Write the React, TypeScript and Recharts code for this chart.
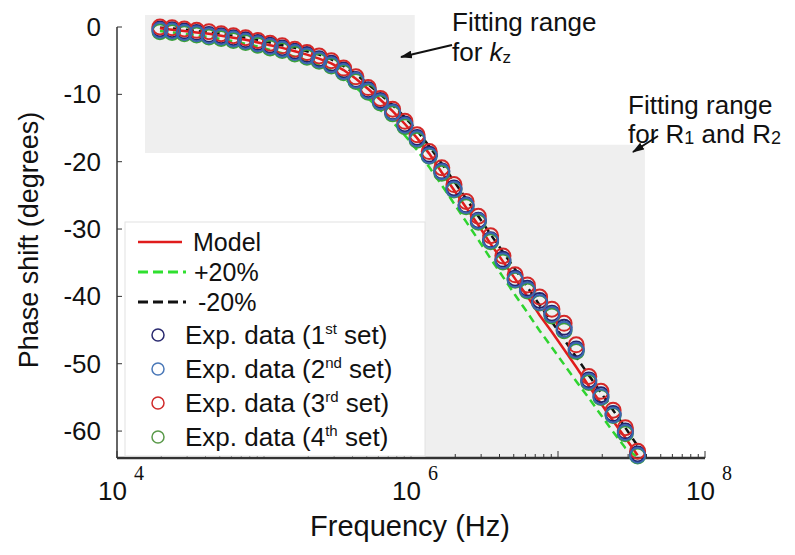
import React from "react";
import { ComposedChart, Line, Scatter, XAxis, YAxis, ReferenceArea } from "recharts";

// measurement frequencies (Hz), ~12 points per decade
const frequencies = [
  19600, 23700, 28700, 34800, 42200, 51100, 61900, 75000, 90900, 110000, 133000, 162000,
  196000, 237000, 287000, 348000, 422000, 511000, 619000, 750000, 909000, 1100000, 1330000, 1620000,
  1960000, 2370000, 2870000, 3480000, 4220000, 5110000, 6190000, 7500000, 9090000, 11000000, 13300000, 16200000,
  19600000, 23700000, 28700000, 34800000,
];

// phase shift (degrees)
const set1 = [
  -0.3, -0.4, -0.6, -0.8, -1.1, -1.3, -1.6, -1.9, -2.3, -2.7, -3.1, -3.6, -4.1, -4.7, -5.4, -6.4, -7.8, -9.3, -10.9, -12.6,
  -14.4, -16.4, -18.9, -21.4, -23.9, -26.4, -28.7, -31.6, -34.5, -37.3, -38.8, -40.6, -42.5, -44.6, -47.8, -52.4, -54.6, -57.4, -60.0, -63.4,
];
const set2 = [
  -0.5, -0.6, -0.8, -1.0, -1.3, -1.5, -1.8, -2.1, -2.5, -2.9, -3.3, -3.8, -4.3, -4.9, -5.6, -6.6, -7.9, -9.5, -11.1, -12.7,
  -14.6, -16.6, -19.1, -21.5, -24.1, -26.5, -28.8, -31.7, -34.7, -37.5, -39.0, -40.9, -42.7, -44.9, -48.0, -52.6, -54.9, -57.6, -60.2, -63.6,
];
const set3 = [
  0.0, -0.1, -0.3, -0.5, -0.7, -1.0, -1.3, -1.6, -2.0, -2.4, -2.8, -3.3, -3.8, -4.3, -5.0, -6.1, -7.4, -9.0, -10.6, -12.2,
  -14.0, -16.0, -18.5, -20.9, -23.4, -25.9, -28.1, -31.0, -34.0, -36.8, -38.3, -40.1, -41.9, -44.0, -47.2, -51.9, -54.1, -56.9, -59.5, -63.0,
];
const set4 = [
  -0.7, -0.8, -1.0, -1.2, -1.5, -1.7, -2.0, -2.3, -2.7, -3.1, -3.5, -4.0, -4.5, -5.1, -5.8, -6.8, -8.1, -9.7, -11.3, -12.9,
  -14.8, -16.8, -19.2, -21.7, -24.2, -26.7, -29.0, -31.9, -34.9, -37.6, -39.2, -41.0, -42.9, -45.1, -48.2, -52.8, -55.0, -57.7, -60.4, -63.7,
];
const model = [
  -0.2, -0.4, -0.6, -0.8, -1.0, -1.3, -1.6, -1.9, -2.3, -2.7, -3.1, -3.6, -4.1, -4.7, -5.4, -6.4, -7.7, -9.2, -10.8, -12.5,
  -14.4, -16.5, -18.8, -21.6, -24.2, -26.8, -29.4, -32.2, -34.8, -37.4, -40.0, -42.8, -45.3, -47.9, -50.5, -53.3, -55.9, -58.5, -61.0, -63.6,
];
const plus20 = [
  -0.6, -0.8, -1.0, -1.2, -1.5, -1.8, -2.1, -2.5, -2.9, -3.4, -3.9, -4.4, -5.0, -5.7, -6.5, -7.6, -9.0, -10.6, -12.3, -14.1,
  -16.1, -18.3, -20.8, -23.5, -26.2, -28.9, -31.6, -34.4, -37.1, -39.8, -42.4, -45.1, -47.6, -50.1, -52.6, -55.1, -57.6, -60.1, -62.5, -63.9,
];
const minus20 = [
  -0.1, -0.2, -0.4, -0.6, -0.8, -1.0, -1.3, -1.6, -1.9, -2.3, -2.7, -3.1, -3.6, -4.1, -4.8, -5.8, -7.0, -8.5, -10.0, -11.6,
  -13.4, -15.4, -17.7, -20.3, -22.9, -25.5, -28.1, -30.8, -33.4, -36.0, -38.6, -41.3, -43.8, -46.4, -49.0, -51.7, -54.3, -56.9, -59.5, -62.2,
];

const yTicks = [-60, -50, -40, -30, -20, -10, 0];
const decades = [1e4, 1e5, 1e6, 1e7, 1e8];
const labelledDecades = [1e4, 1e6, 1e8];
const xTicks = decades.flatMap((d) => (d === 1e8 ? [d] : [1, 2, 3, 4, 5, 6, 7, 8, 9].map((m) => m * d)));

const legendRows = [
  { sup: "st", n: "1", color: "#2a2a70" },
  { sup: "nd", n: "2", color: "#4a78b8" },
  { sup: "rd", n: "3", color: "#d02a2a" },
  { sup: "th", n: "4", color: "#5a9a4a" },
];

const SANS = "'Liberation Sans', Arial, Helvetica, sans-serif";
const SERIF = "'Liberation Serif', 'Times New Roman', serif";

const lineData = frequencies.map((f, i) => ({ f, model: model[i], plus: plus20[i], minus: minus20[i] }));
const toPoints = (vals: number[]) => frequencies.map((f, i) => ({ f, y: vals[i] }));

const ring = (color: string) => (p: any) => (
  <circle cx={p.cx} cy={p.cy} r={7.5} fill="none" stroke={color} strokeWidth={2} />
);

const XTick = (props: any) => {
  const { x, y, payload } = props;
  const v = payload.value;
  const isDecade = decades.includes(v);
  const exp = Math.round(Math.log10(v));
  return (
    <g>
      <line x1={x} x2={x} y1={y} y2={y - (isDecade ? 7 : 4)} stroke="#333" strokeWidth={1} />
      {labelledDecades.includes(v) && (
        <text x={x + 4} y={y + 42} textAnchor="middle" fill="#111">
          <tspan fontFamily={SANS} fontSize={26}>10</tspan>
          <tspan fontFamily={SERIF} fontSize={20} dx={7} dy={-20}>{exp}</tspan>
        </text>
      )}
    </g>
  );
};

const YTick = (props: any) => {
  const { x, y, payload } = props;
  return (
    <g>
      <line x1={x + 16} x2={x + 21} y1={y} y2={y} stroke="#333" strokeWidth={1} />
      <text x={x} y={y} textAnchor="end" dominantBaseline="central" fontFamily={SANS} fontSize={26} fill="#111">
        {payload.value}
      </text>
    </g>
  );
};

export default function App() {
  return (
    <div style={{ position: "absolute", left: 0, top: 0, width: 795, height: 555, background: "#fff" }}>
      <ComposedChart width={795} height={555} data={lineData} margin={{ top: 27, right: 90, bottom: 0, left: 0 }}>
        <ReferenceArea x1={15500} x2={1060000} y1={-18.7} y2={1.8} fill="#efefef" fillOpacity={1} ifOverflow="visible" />
        <ReferenceArea x1={1240000} x2={39000000} y1={-64} y2={-17.5} fill="#efefef" fillOpacity={1} ifOverflow="visible" />
        <XAxis
          dataKey="f"
          type="number"
          scale="log"
          domain={[1e4, 1e8]}
          ticks={xTicks}
          interval={0}
          tick={<XTick />}
          tickLine={false}
          tickSize={0}
          tickMargin={0}
          height={97}
          axisLine={{ stroke: "#333", strokeWidth: 2.5 }}
        />
        <YAxis
          type="number"
          domain={[-64, 0]}
          ticks={yTicks}
          interval={0}
          tick={<YTick />}
          tickLine={false}
          tickSize={0}
          tickMargin={16}
          width={117}
          axisLine={{ stroke: "#333", strokeWidth: 1.5 }}
        />
        <Line dataKey="minus" stroke="#111" strokeWidth={2.5} strokeDasharray="8 5" dot={false} isAnimationActive={false} />
        <Line dataKey="plus" stroke="#2fd42f" strokeWidth={2.5} strokeDasharray="8 5" dot={false} isAnimationActive={false} />
        <Scatter data={toPoints(set4)} dataKey="y" shape={ring("#3aa03a")} isAnimationActive={false} />
        <Scatter data={toPoints(set1)} dataKey="y" shape={ring("#24246e")} isAnimationActive={false} />
        <Scatter data={toPoints(set3)} dataKey="y" shape={ring("#d42828")} isAnimationActive={false} />
        <Scatter data={toPoints(set2)} dataKey="y" shape={ring("#3a66b0")} isAnimationActive={false} />
        <Line dataKey="model" stroke="#e01c1c" strokeWidth={2.5} dot={false} isAnimationActive={false} />
      </ComposedChart>

      <svg width={795} height={555} style={{ position: "absolute", left: 0, top: 0, pointerEvents: "none" }}>
        <defs>
          <marker id="head" markerWidth="12" markerHeight="8" refX="11" refY="4" orient="auto" markerUnits="userSpaceOnUse">
            <path d="M0,0 L12,4 L0,8 z" fill="#111" />
          </marker>
        </defs>

        <text transform="translate(29,240) rotate(-90)" textAnchor="middle" dominantBaseline="central" fontFamily={SANS} fontSize={27} fill="#111">
          Phase shift (degrees)
        </text>
        <text x={410} y={526} textAnchor="middle" dominantBaseline="central" fontFamily={SANS} fontSize={29} fill="#111">
          Frequency (Hz)
        </text>

        <text x={452} y={31} fontFamily={SANS} fontSize={26} fill="#111">Fitting range</text>
        <text x={452} y={61} fontFamily={SANS} fontSize={26} fill="#111">
          for <tspan fontStyle="italic">k</tspan><tspan fontSize={17} dy={2}>z</tspan>
        </text>
        <line x1={452} y1={45} x2={401} y2={57} stroke="#111" strokeWidth={2} markerEnd="url(#head)" />

        <text x={628} y={114} fontFamily={SANS} fontSize={26} fill="#111">Fitting range</text>
        <text x={628} y={143} fontFamily={SANS} fontSize={26} fill="#111">
          for R<tspan fontSize={18} dy={1}>1</tspan><tspan dy={-1}> and R</tspan><tspan fontSize={18} dy={1}>2</tspan>
        </text>
        <line x1={658} y1={136} x2={633} y2={152} stroke="#111" strokeWidth={2} markerEnd="url(#head)" />

        <rect x={125} y={222} width={300} height={234} fill="#fff" stroke="#e2e2e2" strokeWidth={1} />
        <line x1={138} x2={182} y1={242} y2={242} stroke="#e01c1c" strokeWidth={2.5} />
        <text x={193} y={242} dominantBaseline="central" fontFamily={SANS} fontSize={25} fill="#111">Model</text>
        <line x1={138} x2={186} y1={272} y2={272} stroke="#2fe02f" strokeWidth={3} strokeDasharray="10 5" />
        <text x={194} y={272} dominantBaseline="central" fontFamily={SANS} fontSize={25} fill="#111">+20%</text>
        <line x1={138} x2={186} y1={302} y2={302} stroke="#111" strokeWidth={3} strokeDasharray="10 5" />
        <text x={198} y={302} dominantBaseline="central" fontFamily={SANS} fontSize={25} fill="#111">-20%</text>
        {legendRows.map((r, i) => {
          const cy = 335 + i * 34;
          return (
            <g key={r.n}>
              <circle cx={158} cy={cy} r={6} fill="none" stroke={r.color} strokeWidth={1.5} />
              <text x={185} y={cy + 9} fontFamily={SANS} fontSize={26} fill="#111">
                Exp. data ({r.n}<tspan fontSize={15} dy={-10}>{r.sup}</tspan><tspan dy={10}> set)</tspan>
              </text>
            </g>
          );
        })}
      </svg>
    </div>
  );
}
